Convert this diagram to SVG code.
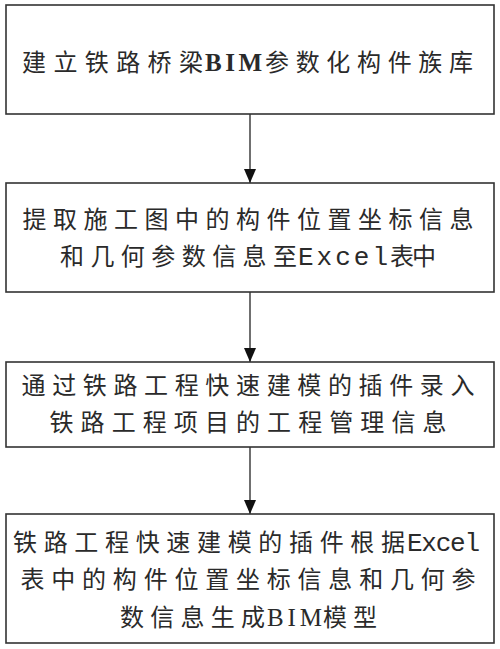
<svg xmlns="http://www.w3.org/2000/svg" width="500" height="649" viewBox="0 0 500 649">
<defs>
<style>
.box{fill:#fff;stroke:#333;stroke-width:1.6}
.t{font-family:"Liberation Serif","Noto Sans CJK SC",serif;font-size:24px;fill:#2a2a2a}
.m{text-anchor:middle}
.l{font-family:"Liberation Serif",serif;font-size:25px}
.x{font-family:"Liberation Mono",monospace;font-size:26px}
.c{stroke:#333;stroke-width:1.4;fill:none}
</style>
<marker id="ah" markerWidth="14" markerHeight="12" refX="14" refY="6" orient="auto" markerUnits="userSpaceOnUse">
<path d="M0,0 L14,6 L0,12 Z" fill="#111"/>
</marker>
</defs>
<rect width="500" height="649" fill="#fff"/>
<g id="connectors">
<line class="c" x1="250" y1="114" x2="250" y2="183" marker-end="url(#ah)"/>
<line class="c" x1="250" y1="292" x2="250" y2="362" marker-end="url(#ah)"/>
<line class="c" x1="250" y1="447" x2="250" y2="514" marker-end="url(#ah)"/>
</g>
<g id="n1">
<rect class="box" x="6" y="5" width="488" height="109"/>
<text class="t" x="22" y="71" textLength="181" lengthAdjust="spacing">建立铁路桥梁</text>
<text class="t l" x="205" y="71" font-weight="bold" textLength="57" lengthAdjust="spacing">BIM</text>
<text class="t" x="265" y="71" textLength="208" lengthAdjust="spacing">参数化构件族库</text>
</g>
<g id="n2">
<rect class="box" x="6" y="183" width="488" height="109"/>
<text class="t m" x="248" y="228" textLength="451" lengthAdjust="spacing">提取施工图中的构件位置坐标信息</text>
<text class="t" x="60" y="265" textLength="237" lengthAdjust="spacing">和几何参数信息至</text>
<text class="t x" x="298" y="265" textLength="90" lengthAdjust="spacing">Excel</text>
<text class="t" x="390" y="265" textLength="46" lengthAdjust="spacing">表中</text>
</g>
<g id="n3">
<rect class="box" x="6" y="362" width="488" height="85"/>
<text class="t m" x="248" y="394" textLength="453" lengthAdjust="spacing">通过铁路工程快速建模的插件录入</text>
<text class="t m" x="248" y="431" textLength="397" lengthAdjust="spacing">铁路工程项目的工程管理信息</text>
</g>
<g id="n4">
<rect class="box" x="6" y="514" width="488" height="129"/>
<text class="t" x="13" y="551" textLength="392" lengthAdjust="spacing">铁路工程快速建模的插件根据</text>
<text class="t x" x="407" y="551" textLength="73" lengthAdjust="spacing">Excel</text>
<text class="t m" x="248" y="588" textLength="455" lengthAdjust="spacing">表中的构件位置坐标信息和几何参</text>
<text class="t" x="120" y="626" textLength="145" lengthAdjust="spacing">数信息生成</text>
<text class="t l" x="267" y="626" textLength="55" lengthAdjust="spacing">BIM</text>
<text class="t" x="323" y="626" textLength="54" lengthAdjust="spacing">模型</text>
</g>
</svg>
